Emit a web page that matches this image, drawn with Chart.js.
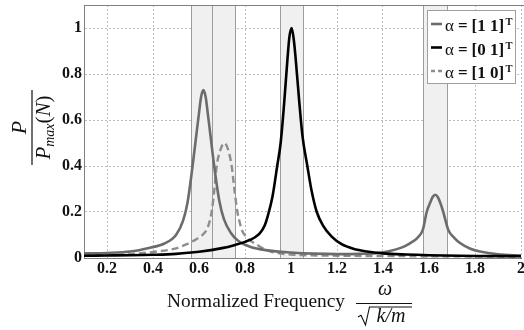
<!DOCTYPE html>
<html><head><meta charset="utf-8">
<script src="https://cdn.jsdelivr.net/npm/chart.js@4/dist/chart.umd.min.js"></script>
<style>
html,body{margin:0;padding:0;overflow:hidden;background:#fff;width:524px;height:330px}
#wrap{position:absolute;left:0;top:0;width:526px;height:330px}
</style>
</head><body><div id="wrap"><canvas id="c" width="526" height="330"></canvas></div>
<script>
// ---- data ----
const xTicks = [0.2, 0.4, 0.6, 0.8, 1, 1.2, 1.4, 1.6, 1.8, 2];
const yTicks = [0, 0.2, 0.4, 0.6, 0.8, 1];
const bands = [[0.564, 0.657], [0.657, 0.758], [0.952, 1.052], [1.574, 1.678]];
const seriesNames = ['α = [1 1]', 'α = [0 1]', 'α = [1 0]'];
const seriesSup = 'T';

const freq11 = [0.1,0.2,0.3,0.387,0.45,0.5,0.53,0.55,0.572,0.589,0.6,0.609,0.619,0.629,0.638,0.649,0.666,0.688,0.708,0.738,0.77,0.822,0.9,1.0,1.1,1.2,1.3,1.37,1.43,1.48,1.517,1.55,1.573,1.59,1.605,1.616,1.627,1.638,1.649,1.662,1.684,1.71,1.735,1.78,1.822,1.9,2.0];
const val11  = [0.02,0.022,0.028,0.045,0.063,0.1,0.16,0.24,0.4,0.54,0.63,0.7,0.73,0.7,0.63,0.54,0.4,0.25,0.17,0.11,0.075,0.049,0.033,0.024,0.019,0.017,0.018,0.021,0.03,0.045,0.064,0.088,0.122,0.2,0.24,0.265,0.275,0.265,0.24,0.2,0.122,0.088,0.065,0.04,0.028,0.016,0.01];

const freq01 = [0.1,0.2,0.3,0.4,0.5,0.6,0.7,0.757,0.8,0.84,0.865,0.885,0.901,0.92,0.94,0.955,0.97,0.985,0.993,1.003,1.012,1.02,1.035,1.05,1.071,1.09,1.112,1.14,1.177,1.22,1.271,1.33,1.4,1.5,1.6,1.8,2.0];
const val01  = [0.01,0.011,0.012,0.014,0.018,0.027,0.043,0.057,0.07,0.088,0.108,0.14,0.19,0.27,0.4,0.5,0.67,0.87,0.96,1.0,0.95,0.87,0.69,0.53,0.4,0.29,0.2,0.14,0.093,0.06,0.04,0.028,0.02,0.015,0.012,0.009,0.008];

const freq10 = [0.1,0.2,0.3,0.416,0.5,0.547,0.59,0.615,0.633,0.645,0.655,0.666,0.677,0.693,0.71,0.727,0.742,0.755,0.767,0.777,0.786,0.81,0.851,0.9,0.95,1.0,1.2,1.5,2.0];
const val10  = [0.012,0.013,0.017,0.028,0.042,0.06,0.083,0.1,0.122,0.155,0.2,0.29,0.4,0.47,0.5,0.47,0.4,0.29,0.2,0.155,0.122,0.088,0.058,0.032,0.02,0.015,0.01,0.008,0.006];

const pts = (xs, ys) => xs.map((v, i) => ({x: v, y: ys[i]}));
const SERIF = '"Liberation Serif", "Times New Roman", serif';

const styles = [
  {color: '#6c6c6c', width: 2.6, dash: []},
  {color: '#000000', width: 2.6, dash: []},
  {color: '#8e8e8e', width: 2.4, dash: [7, 4]}
];

const decor = {
  id: 'decor',
  beforeDatasetsDraw(chart) {
    const {ctx, chartArea: a, scales: {x}} = chart;
    ctx.save();
    for (const [lo, hi] of bands) {
      const x0 = Math.round(x.getPixelForValue(lo)) + 0.5;
      const x1 = Math.round(x.getPixelForValue(hi)) + 0.5;
      ctx.fillStyle = '#f0f0f0';
      ctx.fillRect(x0, a.top, x1 - x0, a.bottom - a.top);
      ctx.strokeStyle = '#9c9c9c';
      ctx.lineWidth = 1;
      ctx.beginPath();
      ctx.moveTo(x0, a.top); ctx.lineTo(x0, a.bottom);
      ctx.moveTo(x1, a.top); ctx.lineTo(x1, a.bottom);
      ctx.stroke();
    }
    ctx.strokeStyle = '#808080';
    ctx.beginPath();
    ctx.moveTo(a.left, Math.round(a.bottom) + 0.5); ctx.lineTo(a.right, Math.round(a.bottom) + 0.5);
    ctx.stroke();
    ctx.restore();
  },
  afterDraw(chart) {
    const {ctx, chartArea: a} = chart;
    ctx.save();
    // top frame line
    ctx.strokeStyle = '#808080'; ctx.lineWidth = 1;
    ctx.beginPath(); ctx.moveTo(a.left, Math.round(a.top) + 0.5); ctx.lineTo(a.right + 6, Math.round(a.top) + 0.5); ctx.stroke();

    // legend
    const lx = 427.5, ly = 10.5, lw = 88, lh = 73;
    ctx.fillStyle = '#fff'; ctx.fillRect(lx, ly, lw, lh);
    ctx.strokeStyle = '#a0a0a0'; ctx.strokeRect(lx, ly, lw, lh);
    const rows = [24, 47.5, 71];
    chart.data.datasets.forEach((ds, i) => {
      const s = styles[i];
      ctx.strokeStyle = s.color; ctx.lineWidth = s.width; ctx.setLineDash(i === 2 ? [4, 3] : []);
      ctx.beginPath(); ctx.moveTo(431, rows[i]); ctx.lineTo(442, rows[i]); ctx.stroke();
      ctx.setLineDash([]);
      ctx.fillStyle = '#111';
      ctx.textAlign = 'left'; ctx.textBaseline = 'alphabetic';
      const [lhs, rhs] = ds.label.split(' = ');
      const by = rows[i] + 7;
      ctx.font = '17px ' + SERIF;
      ctx.fillText(lhs, 445, by);
      ctx.font = 'bold 17px ' + SERIF;
      ctx.fillText('=', 458, by);
      ctx.fillText(rhs, 471.5, by);
      const w = ctx.measureText(rhs).width;
      ctx.font = 'bold 10.5px ' + SERIF;
      ctx.fillText(seriesSup, 471.5 + w + 1.5, rows[i] + 1);
    });

    // y-axis title (rotated fraction)
    ctx.save();
    ctx.translate(32, 127.5);
    ctx.rotate(-Math.PI / 2);
    ctx.fillStyle = '#111';
    ctx.textBaseline = 'alphabetic';
    ctx.font = 'italic 22px ' + SERIF;
    ctx.textAlign = 'center';
    ctx.fillText('P', 0, -6);
    ctx.strokeStyle = '#111'; ctx.lineWidth = 1.2;
    ctx.beginPath(); ctx.moveTo(-37.5, 0); ctx.lineTo(37.5, 0); ctx.stroke();
    const parts = [
      {t: 'P', f: 'italic 21px ' + SERIF, dy: 0},
      {t: 'max', f: 'italic 14px ' + SERIF, dy: 4},
      {t: '(', f: '21px ' + SERIF, dy: 0},
      {t: 'N', f: 'italic 21px ' + SERIF, dy: 0},
      {t: ')', f: '21px ' + SERIF, dy: 0}
    ];
    let tot = 0;
    parts.forEach(p => { ctx.font = p.f; p.w = ctx.measureText(p.t).width; tot += p.w; });
    let ux = -tot / 2;
    ctx.textAlign = 'left';
    parts.forEach(p => { ctx.font = p.f; ctx.fillText(p.t, ux, 18 + p.dy); ux += p.w; });
    ctx.restore();

    // x-axis title
    ctx.fillStyle = '#111';
    ctx.textAlign = 'left'; ctx.textBaseline = 'alphabetic';
    const txt = 'Normalized Frequency';
    ctx.font = '20px ' + SERIF;
    const tw = ctx.measureText(txt).width;
    const fs = 20 * 178 / tw;
    ctx.font = fs.toFixed(2) + 'px ' + SERIF;
    ctx.fillText(txt, 167, 306.5);
    ctx.font = 'italic 20px ' + SERIF;
    ctx.textAlign = 'center';
    ctx.fillText('ω', 385, 295);
    ctx.strokeStyle = '#111'; ctx.lineWidth = 1.2;
    ctx.beginPath(); ctx.moveTo(356, 303.5); ctx.lineTo(412, 303.5); ctx.stroke();
    // radical sign
    ctx.lineWidth = 1.1;
    ctx.beginPath();
    ctx.moveTo(358, 317); ctx.lineTo(361, 315.3); ctx.lineTo(365.5, 325); ctx.lineTo(369.5, 307);
    ctx.lineTo(412, 307);
    ctx.stroke();
    ctx.font = 'italic 20px ' + SERIF;
    ctx.textAlign = 'left';
    const km = 'k/m';
    const kmw = ctx.measureText(km).width;
    ctx.fillText(km, 391 - kmw / 2, 321.5);
    ctx.restore();
  }
};

const tickFont = {family: SERIF, size: 16, weight: 'bold'};

new Chart(document.getElementById('c'), {
  type: 'line',
  data: {
    datasets: [
      {label: seriesNames[0], data: pts(freq11, val11), borderColor: styles[0].color, borderWidth: styles[0].width, borderDash: styles[0].dash, order: 2},
      {label: seriesNames[1], data: pts(freq01, val01), borderColor: styles[1].color, borderWidth: styles[1].width, borderDash: styles[1].dash, order: 1},
      {label: seriesNames[2], data: pts(freq10, val10), borderColor: styles[2].color, borderWidth: styles[2].width, borderDash: styles[2].dash, order: 3}
    ]
  },
  options: {
    responsive: false,
    animation: false,
    devicePixelRatio: 1,
    layout: {padding: {left: 0, right: 5, top: 5, bottom: 0}},
    elements: {point: {radius: 0}, line: {cubicInterpolationMode: 'monotone', fill: false}},
    plugins: {legend: {display: false}, tooltip: {enabled: false}},
    scales: {
      x: {
        type: 'linear', min: 0.1, max: 2,
        afterBuildTicks: s => { s.ticks = xTicks.map(v => ({value: v})); },
        afterFit: s => { s.height = 72; s.paddingLeft = 0; s.paddingRight = 0; },
        ticks: {font: tickFont, color: '#111', padding: 1, maxRotation: 0, autoSkip: false, callback: v => String(v)},
        grid: {color: '#bdbdbd', drawTicks: false},
        border: {display: true, color: '#808080', dash: [2, 2]}
      },
      y: {
        type: 'linear', min: 0, max: 1.1,
        afterBuildTicks: s => { s.ticks = yTicks.map(v => ({value: v})); },
        afterFit: s => { s.width = 84; s.paddingTop = 0; s.paddingBottom = 0; },
        ticks: {font: tickFont, color: '#111', padding: 2, callback: v => String(v)},
        grid: {color: '#bdbdbd', drawTicks: false},
        border: {display: true, color: '#808080', dash: [2, 2]}
      }
    }
  },
  plugins: [decor]
});
</script>
</body></html>
